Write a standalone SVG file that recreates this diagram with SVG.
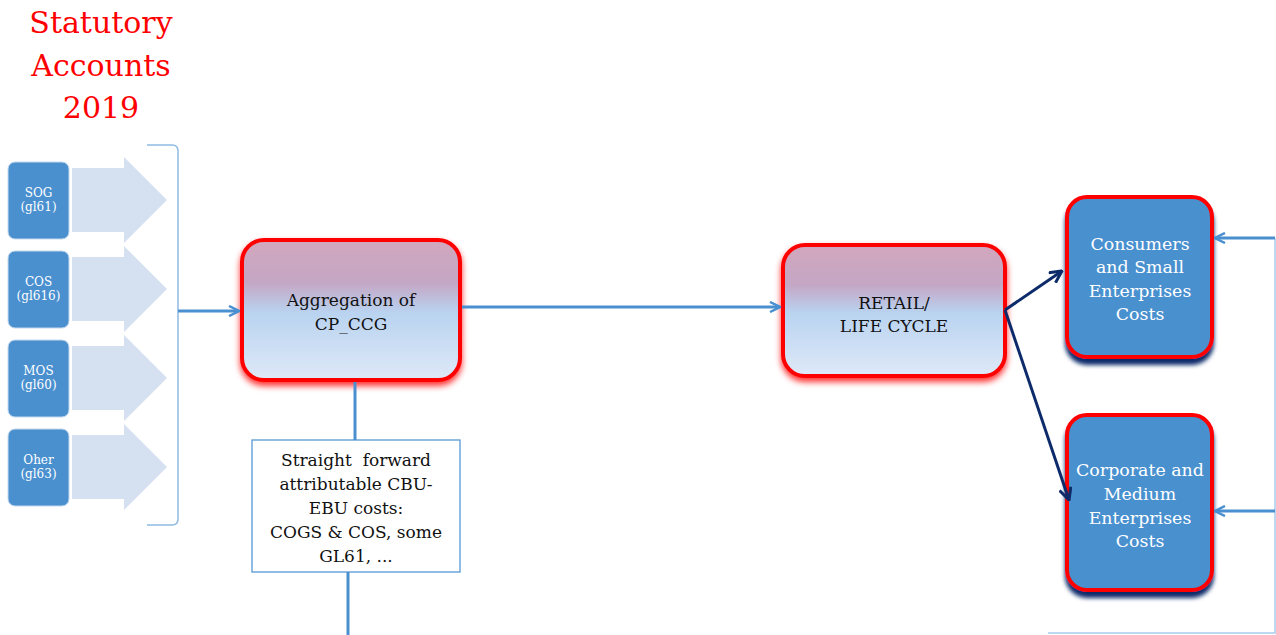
<svg xmlns="http://www.w3.org/2000/svg" width="1276" height="635" viewBox="0 0 1276 635">
<defs>
<style>
text{font-family:'DejaVu Serif',serif}
.ttl{font-size:30px;fill:#ff0000;text-anchor:middle}
.sm{font-size:12px;fill:#ffffff;text-anchor:middle}
.bk{font-size:17px;fill:#111111;text-anchor:middle}
.wh{font-size:17.4px;fill:#ffffff;text-anchor:middle}
.lb{fill:#4a90cf;stroke:#c5d9ee;stroke-width:1}
.ar{fill:#d5e0f0}
.conn{stroke:#4a90d0;stroke-width:3;fill:none}
.nav{stroke:#0d2b6b;stroke-width:3;fill:none}
.redbox{fill:url(#g1);stroke:#ff0000;stroke-width:4;filter:url(#rs)}
.bluebox{fill:#4a90cf;stroke:#ff0000;stroke-width:4;filter:url(#ns)}
</style>
<linearGradient id="g1" x1="0" y1="0" x2="0" y2="1">
<stop offset="0" stop-color="#d2a7bd"/>
<stop offset="0.3" stop-color="#c4a6c4"/>
<stop offset="0.52" stop-color="#b9d3f0"/>
<stop offset="1" stop-color="#dfe9f8"/>
</linearGradient>
<filter id="rs" x="-10%" y="-10%" width="120%" height="130%">
<feDropShadow dx="0" dy="4" stdDeviation="3" flood-color="#ff0000" flood-opacity="0.8"/>
</filter>
<filter id="ns" x="-10%" y="-10%" width="120%" height="130%">
<feDropShadow dx="0" dy="6" stdDeviation="2" flood-color="#0d2b6b" flood-opacity="1"/>
</filter>
<marker id="ob" viewBox="0 0 12 12" refX="11" refY="6" markerWidth="12" markerHeight="12" markerUnits="userSpaceOnUse" orient="auto">
<path d="M1,1 L11,6 L1,11" fill="none" stroke="#4a90d0" stroke-width="2.5"/>
</marker>
<marker id="on" viewBox="0 0 14 14" refX="13" refY="7" markerWidth="14" markerHeight="14" markerUnits="userSpaceOnUse" orient="auto">
<path d="M1,1 L13,7 L1,13" fill="none" stroke="#0d2b6b" stroke-width="3"/>
</marker>
</defs>
<rect width="1276" height="635" fill="#ffffff"/>

<g id="title">
<text class="ttl" x="101" y="33">Statutory</text>
<text class="ttl" x="101" y="76">Accounts</text>
<text class="ttl" x="101" y="118">2019</text>
</g>

<g id="arrows-bg">
<path class="ar" d="M72,168 L124,168 L124,157 L167,200 L124,243 L124,232 L72,232 Z"/>
<path class="ar" d="M72,257 L124,257 L124,246 L167,289 L124,332 L124,321 L72,321 Z"/>
<path class="ar" d="M72,346 L124,346 L124,335 L167,378 L124,421 L124,410 L72,410 Z"/>
<path class="ar" d="M72,435 L124,435 L124,424 L167,467 L124,510 L124,499 L72,499 Z"/>
</g>

<g id="sog">
<rect class="lb" x="8" y="162" width="61" height="77" rx="7"/>
<text class="sm" x="38.5" y="197">SOG</text>
<text class="sm" x="38.5" y="211">(gl61)</text>
</g>
<g id="cos">
<rect class="lb" x="8" y="251" width="61" height="77" rx="7"/>
<text class="sm" x="38.5" y="286">COS</text>
<text class="sm" x="38.5" y="300">(gl616)</text>
</g>
<g id="mos">
<rect class="lb" x="8" y="340" width="61" height="77" rx="7"/>
<text class="sm" x="38.5" y="375">MOS</text>
<text class="sm" x="38.5" y="389">(gl60)</text>
</g>
<g id="oher">
<rect class="lb" x="8" y="429" width="61" height="77" rx="7"/>
<text class="sm" x="38.5" y="464">Oher</text>
<text class="sm" x="38.5" y="478">(gl63)</text>
</g>

<g id="brace">
<path d="M147,145 L172,145 Q178,145 178,151 L178,519 Q178,525 172,525 L147,525" fill="none" stroke="#8fbbe3" stroke-width="1.5"/>
</g>

<g id="aggregation">
<rect class="redbox" x="242" y="240" width="218" height="140" rx="22"/>
<text class="bk" x="351" y="306">Aggregation of</text>
<text class="bk" x="351" y="330">CP_CCG</text>
</g>

<g id="retail">
<rect class="redbox" x="783" y="245" width="222" height="131" rx="22"/>
<text class="bk" x="894" y="309">RETAIL/</text>
<text class="bk" x="894" y="332">LIFE CYCLE</text>
</g>

<g id="consumers">
<rect class="bluebox" x="1067" y="197" width="145" height="160" rx="20"/>
<text class="wh" x="1140" y="250">Consumers</text>
<text class="wh" x="1140" y="273">and Small</text>
<text class="wh" x="1140" y="297">Enterprises</text>
<text class="wh" x="1140" y="320">Costs</text>
</g>

<g id="corporate">
<rect class="bluebox" x="1067" y="415" width="145" height="175" rx="20"/>
<text class="wh" x="1140" y="476">Corporate and</text>
<text class="wh" x="1140" y="500">Medium</text>
<text class="wh" x="1140" y="524">Enterprises</text>
<text class="wh" x="1140" y="547">Costs</text>
</g>

<g id="straight">
<rect x="252" y="440" width="208" height="132" fill="#ffffff" stroke="#4a90d0" stroke-width="1.2"/>
<text class="bk" x="356" y="466" xml:space="preserve">Straight  forward</text>
<text class="bk" x="356" y="490">attributable CBU-</text>
<text class="bk" x="356" y="514">EBU costs:</text>
<text class="bk" x="356" y="538">COGS &amp; COS, some</text>
<text class="bk" x="356" y="562">GL61, ...</text>
</g>

<g id="connectors">
<line class="conn" x1="178" y1="311" x2="239" y2="311" marker-end="url(#ob)"/>
<line class="conn" x1="462" y1="307" x2="780" y2="307" marker-end="url(#ob)"/>
<line class="conn" x1="355" y1="382" x2="355" y2="440"/>
<line class="conn" x1="348" y1="572" x2="348" y2="635"/>
<polyline class="nav" points="1005,310 1062,271" marker-end="url(#on)"/>
<polyline class="nav" points="1005,310 1069,500" marker-end="url(#on)"/>
<polyline points="1275,238 1275,633 1048,633" fill="none" stroke="#a9cbea" stroke-width="1.5"/>
<line class="conn" x1="1275" y1="238" x2="1215" y2="238" marker-end="url(#ob)" stroke-width="2.5"/>
<line class="conn" x1="1275" y1="511" x2="1215" y2="511" marker-end="url(#ob)" stroke-width="2.5"/>
</g>
</svg>
